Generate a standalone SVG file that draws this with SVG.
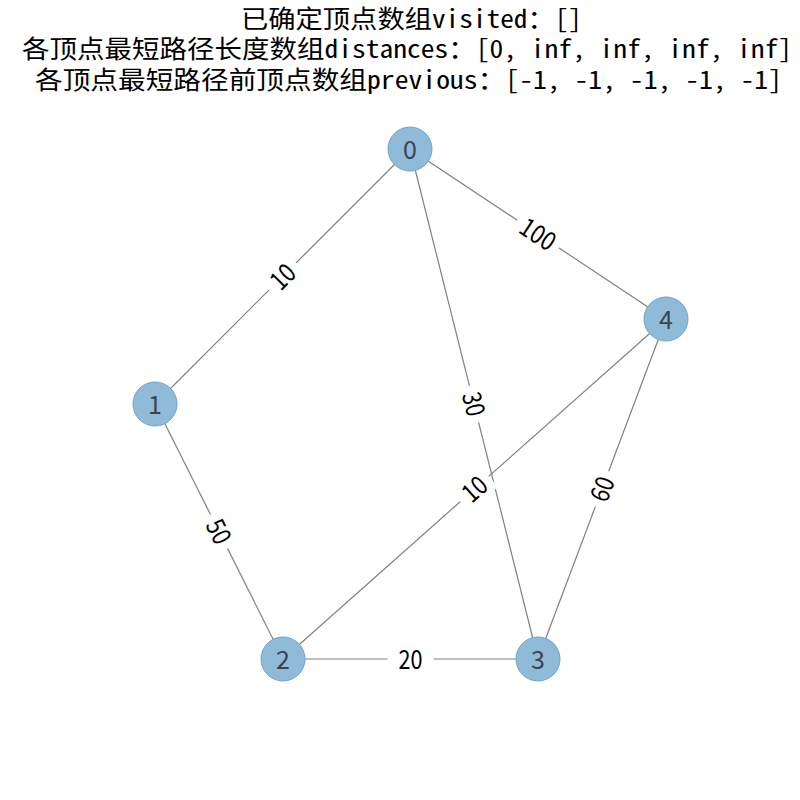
<svg xmlns="http://www.w3.org/2000/svg" width="800" height="800" viewBox="0 0 800 800">
<style>
.title{font-family:"Noto Sans Mono CJK SC","Noto Sans CJK SC","DejaVu Sans",sans-serif;font-size:25px;fill:#000;text-anchor:middle}
.edge{stroke:#808080;stroke-width:1.2;fill:none}
.node circle{fill:#8fbbd9;stroke:#6fa3c8;stroke-width:1}
.node text{font-family:"Noto Sans CJK SC","DejaVu Sans",sans-serif;font-size:25px;fill:#3a4550;text-anchor:middle;dominant-baseline:central}
.elabel rect{fill:#fff}
.elabel text{font-family:"Noto Sans CJK SC","DejaVu Sans",sans-serif;font-size:26px;fill:#000;text-anchor:middle;dominant-baseline:central}
</style>
<rect width="800" height="800" fill="#fff"/>
<text class="title" x="411.5" y="28" textLength="341" lengthAdjust="spacingAndGlyphs">已确定顶点数组visited：[]</text>
<text class="title" x="407" y="58" textLength="770" lengthAdjust="spacingAndGlyphs">各顶点最短路径长度数组distances：[0, inf, inf, inf, inf]</text>
<text class="title" x="408.5" y="89" textLength="747" lengthAdjust="spacingAndGlyphs">各顶点最短路径前顶点数组previous：[-1, -1, -1, -1, -1]</text>
<g id="connectors">
<line class="edge" x1="410" y1="149" x2="155" y2="404"/>
<line class="edge" x1="410" y1="149" x2="666" y2="319"/>
<line class="edge" x1="410" y1="149" x2="538" y2="659"/>
<line class="edge" x1="155" y1="404" x2="283" y2="659"/>
<line class="edge" x1="283" y1="659" x2="666" y2="319"/>
<line class="edge" x1="283" y1="659" x2="538" y2="659"/>
<line class="edge" x1="538" y1="659" x2="666" y2="319"/>
</g>
<g id="node0" class="node"><circle cx="410" cy="149" r="22"/><text x="410" y="148">0</text></g>
<g id="node1" class="node"><circle cx="155" cy="404" r="22"/><text x="155" y="403">1</text></g>
<g id="node2" class="node"><circle cx="283" cy="659" r="22"/><text x="283" y="658">2</text></g>
<g id="node3" class="node"><circle cx="538" cy="659" r="22"/><text x="538" y="658">3</text></g>
<g id="node4" class="node"><circle cx="666" cy="319" r="22"/><text x="666" y="318">4</text></g>
<g id="edge-labels">
<g class="elabel" transform="translate(282.5,276.5) rotate(-45)"><rect x="-19" y="-14" width="38" height="28"/><text y="-2" textLength="24" lengthAdjust="spacingAndGlyphs">10</text></g>
<g class="elabel" transform="translate(538,234) rotate(33.6)"><rect x="-25" y="-14" width="50" height="28"/><text y="-2" textLength="37" lengthAdjust="spacingAndGlyphs">100</text></g>
<g class="elabel" transform="translate(474,404) rotate(75.9)"><rect x="-19" y="-14" width="38" height="28"/><text y="-2" textLength="24" lengthAdjust="spacingAndGlyphs">30</text></g>
<g class="elabel" transform="translate(474.5,489) rotate(-41.6)"><rect x="-19" y="-14" width="38" height="28"/><text y="-2" textLength="24" lengthAdjust="spacingAndGlyphs">10</text></g>
<g class="elabel" transform="translate(219,531.5) rotate(63.3)"><rect x="-19" y="-14" width="38" height="28"/><text y="-2" textLength="24" lengthAdjust="spacingAndGlyphs">50</text></g>
<g class="elabel" transform="translate(602,489) rotate(-69.4)"><rect x="-19" y="-14" width="38" height="28"/><text y="-2" textLength="24" lengthAdjust="spacingAndGlyphs">60</text></g>
<g class="elabel" transform="translate(410.5,659)"><rect x="-23" y="-14" width="46" height="28"/><text y="-2" textLength="24" lengthAdjust="spacingAndGlyphs">20</text></g>
</g>
</svg>
